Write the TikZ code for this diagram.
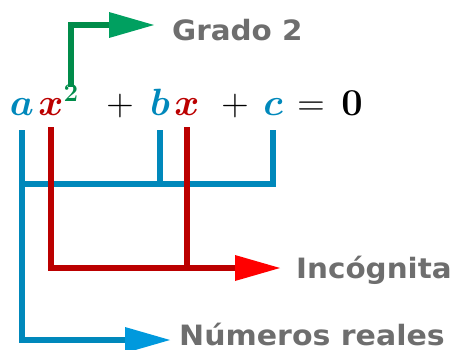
\RequirePackage{fix-cm}
\documentclass[tikz,border=0pt]{standalone}
\usepackage{amsmath}
\usepackage[no-math]{fontspec}
\setmainfont{DejaVu Sans}
\usetikzlibrary{arrows.meta, positioning}
\definecolor{eqblue}{HTML}{0088BB}
\definecolor{eqbluetip}{HTML}{0099DD}
\definecolor{eqred}{HTML}{BB0000}
\definecolor{eqredtip}{HTML}{FF0000}
\definecolor{eqgreen}{HTML}{008C4A}
\definecolor{eqgreentip}{HTML}{00A060}
\definecolor{eqgray}{HTML}{6E6E6E}
\tikzset{
  term/.style={inner sep=0pt, anchor=base, font=\fontsize{38}{40}\selectfont},
  tag/.style={inner sep=0pt, anchor=base west, text=eqgray, xscale=1.05, transform shape,
    font=\fontsize{28}{30}\selectfont\bfseries},
  bline/.style={draw=eqblue, line width=6pt},
  rline/.style={draw=eqred, line width=6pt},
  barrow/.style={bline, -{Triangle[length=45pt, width=26pt, color=eqbluetip, line width=0pt]}},
  rarrow/.style={rline, -{Triangle[length=45pt, width=26pt, color=eqredtip, line width=0pt]}},
  garrow/.style={draw=eqgreen, line width=6pt, -{Triangle[length=45pt, width=26pt, color=eqgreentip, line width=0pt]}}
}
\begin{document}
\begin{tikzpicture}[x=1pt, y=-1pt]
  \useasboundingbox (0,0) rectangle (457,350);
  % equation terms
  \node[term, text=eqblue] (a) at (22,115) {$\boldsymbol{a}$};
  \node[term, text=eqred] (x1) at (51,115) {$\boldsymbol{x}$};
  \node[term, text=eqgreen, font=\fontsize{26}{28}\selectfont] (sq) at (71,102) {$\mathbf{2}$};
  \node[term] (p1) at (120,115) {$+$};
  \node[term, text=eqblue] (b) at (160,115) {$\boldsymbol{b}$};
  \node[term, text=eqred] (x2) at (187,115) {$\boldsymbol{x}$};
  \node[term] (p2) at (235,115) {$+$};
  \node[term, text=eqblue] (c) at (273,115) {$\boldsymbol{c}$};
  \node[term] (eq) at (311,115) {$=$};
  \node[term] (zero) at (352,115) {$\mathbf{0}$};
  % labels
  \node[tag] (grado) at (172,41) {Grado 2};
  \node[tag] (inc) at (296,278) {Incógnita};
  \node[tag, xscale=1.02] (num) at (179,345) {Números reales};
  \coordinate (bus) at (0,184);
  % degree
  \draw[garrow] ([yshift=-2pt]sq.north) |- ([xshift=-18pt]grado.west |- 0,25);
  % blue connectors
  \draw[bline] ([yshift=-15pt]b.south) -- (b.south |- bus);
  \draw[bline] ([yshift=-15pt]c.south) -- (c.south |- bus) -- (a.south |- bus);
  \draw[barrow] ([yshift=-15pt]a.south) |- ([xshift=-9pt]num.west |- 0,340);
  % red connectors
  \draw[rline] ([yshift=-12pt]x2.south) -- (x2.south |- 0,268);
  \draw[rarrow] ([yshift=-12pt]x1.south) |- ([xshift=-16pt]inc.west |- 0,268);
\end{tikzpicture}
\end{document}
